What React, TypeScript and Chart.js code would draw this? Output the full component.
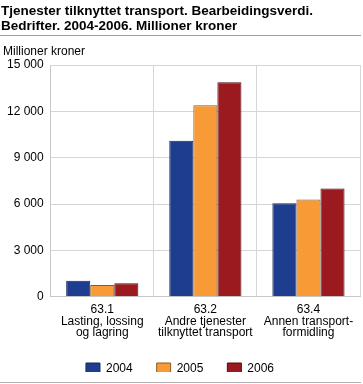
import { useEffect, useRef } from "react";
import { Chart, registerables } from "chart.js";

Chart.register(...registerables);

const categories: string[][] = [
  ["63.1", "Lasting, lossing", "og lagring"],
  ["63.2", "Andre tjenester", "tilknyttet transport"],
  ["63.4", "Annen transport-", "formidling"],
];
const seriesNames = ["2004", "2005", "2006"];
const values2004 = [1030, 10100, 6050];
const values2005 = [760, 12400, 6300];
const values2006 = [880, 13880, 7000];
const yTickValues = [0, 3000, 6000, 9000, 12000, 15000];

const titleLines = [
  "Tjenester tilknyttet transport. Bearbeidingsverdi.",
  "Bedrifter. 2004-2006. Millioner kroner",
];
const yAxisTitle = "Millioner kroner";

const FONT = "Arial, 'Liberation Sans', Helvetica, sans-serif";

const legendTweakPlugin = {
  id: "legendTweak",
  beforeInit(chart: any) {
    const legend = chart.legend;
    const origFit = legend.fit;
    legend.fit = function () {
      origFit.call(this);
      this.height = 33;
    };
    const origDraw = legend.draw;
    legend.draw = function (...args: any[]) {
      const c = this.ctx;
      c.save();
      c.translate(0, -7);
      origDraw.apply(this, args);
      c.restore();
    };
  },
};

export default function App() {
  const ref = useRef<HTMLCanvasElement | null>(null);

  useEffect(() => {
    document.body.style.margin = "0";
    const ctx = ref.current!;
    const chart = new Chart(ctx, {
      type: "bar",
      data: {
        labels: categories,
        datasets: [
          { label: seriesNames[0], data: values2004, backgroundColor: "#1f3d8f", borderColor: "#14275c", borderWidth: 1 },
          { label: seriesNames[1], data: values2005, backgroundColor: "#f89a36", borderColor: "#8a5a25", borderWidth: 1 },
          { label: seriesNames[2], data: values2006, backgroundColor: "#9a1a1f", borderColor: "#4a0c0f", borderWidth: 1 },
        ],
      },
      options: {
        animation: false,
        responsive: false,
        maintainAspectRatio: false,
        layout: { padding: { top: 65, right: 3, bottom: 5, left: 0 } },
        datasets: { bar: { categoryPercentage: 0.7, barPercentage: 1.0 } },
        plugins: {
          legend: {
            position: "bottom",
            labels: {
              boxWidth: 14,
              boxHeight: 12,
              padding: 24,
              color: "#000",
              font: { family: FONT, size: 12 },
            },
          },
          tooltip: { enabled: false },
          title: { display: false },
        },
        scales: {
          x: {
            grid: { color: "#d6d6d6", drawTicks: false, offset: true },
            border: { color: "#c8c8c8" },
            ticks: {
              color: "#000",
              padding: 7,
              maxRotation: 0,
              autoSkip: false,
              font: { family: FONT, size: 12, lineHeight: 0.98 },
            },
          },
          y: {
            min: 0,
            max: 15000,
            afterBuildTicks(scale: any) {
              scale.ticks = yTickValues.map((v) => ({ value: v }));
            },
            grid: { color: "#d6d6d6", drawTicks: false },
            border: { color: "#c8c8c8" },
            ticks: {
              color: "#000",
              padding: 7,
              font: { family: FONT, size: 12 },
              callback: (v: any) => String(v).replace(/\B(?=(\d{3})+(?!\d))/g, " "),
            },
          },
        },
      },
      plugins: [legendTweakPlugin],
    });
    return () => chart.destroy();
  }, []);

  return (
    <div style={{ position: "relative", width: 363, height: 384, overflow: "hidden", background: "#fff" }}>
      <canvas ref={ref} width={363} height={384} style={{ position: "absolute", left: 0, top: 0 }} />
      <div
        style={{
          position: "absolute",
          left: 1,
          top: 3,
          fontFamily: FONT,
          fontWeight: "bold",
          fontSize: 13.5,
          lineHeight: "15px",
          color: "#000",
          whiteSpace: "nowrap",
        }}
      >
        {titleLines.map((t, i) => (
          <div key={i}>{t}</div>
        ))}
      </div>
      <div style={{ position: "absolute", left: 0, top: 35, width: 361, height: 1, background: "#a0a0a0" }} />
      <div
        style={{
          position: "absolute",
          left: 3,
          top: 44,
          fontFamily: FONT,
          fontSize: 12,
          lineHeight: "14px",
          color: "#000",
          whiteSpace: "nowrap",
        }}
      >
        {yAxisTitle}
      </div>
      <div style={{ position: "absolute", left: 0, top: 382, width: 361, height: 1, background: "#b0b0b0" }} />
    </div>
  );
}
